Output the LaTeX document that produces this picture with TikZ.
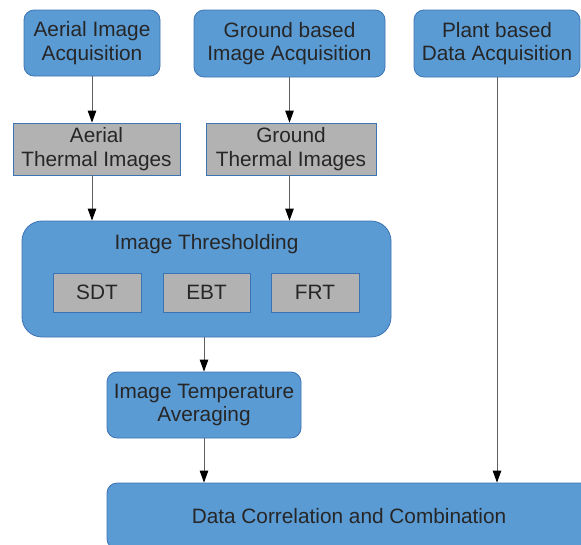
\documentclass[tikz,border=0pt]{standalone}
\usepackage{fontspec}
\setmainfont{Liberation Sans}
\usetikzlibrary{arrows.meta,shapes}
\definecolor{boxblue}{RGB}{91,155,212}
\definecolor{boxedge}{RGB}{60,115,180}
\definecolor{boxgray}{RGB}{178,178,178}
\definecolor{linegray}{RGB}{95,95,95}
\tikzstyle{stage}=[rectangle, rounded corners=10pt, fill=boxblue, draw=boxedge, line width=0.8pt, align=center, inner sep=0pt, text=black!85, font=\fontsize{20.8}{23.5}\selectfont]
\tikzstyle{product}=[rectangle, fill=boxgray, draw=boxedge, line width=0.8pt, align=center, inner sep=0pt, text=black!85, font=\fontsize{20.8}{23.5}\selectfont]
\tikzstyle{caption}=[inner sep=0pt, text=black!85, font=\fontsize{20.8}{23.5}\selectfont]
\tikzstyle{arrow}=[-{Triangle[length=12pt,width=8.5pt,color=black]}, draw=linegray, line width=1pt]

\begin{document}
\begin{tikzpicture}[x=1pt, y=1pt]
            \useasboundingbox (0,0) rectangle (581,-544);
            \clip (0,0) rectangle (581,-544);

            % acquisition
            \node [style=stage, minimum width=136, minimum height=66] (AerialAcq) at (92,-43) {Aerial Image\\Acquisition};
            \node [style=stage, minimum width=191, minimum height=67] (GroundAcq) at (289.5,-43.5) {Ground based\\Image Acquisition};
            \node [style=stage, minimum width=166, minimum height=67] (PlantAcq) at (497,-43.5) {Plant based\\Data Acquisition};

            % thermal images
            \node [style=product, minimum width=167, minimum height=52] (AerialTh) at (96.5,-149) {Aerial\\Thermal Images};
            \node [style=product, minimum width=170, minimum height=52] (GroundTh) at (291,-149) {Ground\\Thermal Images};

            % thresholding
            \node [style=stage, rounded corners=20pt, minimum width=369, minimum height=116] (Thresh) at (206.5,-279) {};
            \node [style=caption] (ThreshTitle) at (206.5,-244) {Image Thresholding};
            \node [style=product, minimum width=88, minimum height=39] (SDT) at (97,-292.5) {SDT};
            \node [style=product, minimum width=87, minimum height=39] (EBT) at (206.5,-292.5) {EBT};
            \node [style=product, minimum width=88, minimum height=39] (FRT) at (315,-292.5) {FRT};

            \node [style=stage, minimum width=194, minimum height=66] (Avg) at (204,-405) {Image Temperature\\Averaging};
            \node [style=stage, minimum width=484, minimum height=66] (Data) at (349,-516) {Data Correlation and Combination};

            \draw [style=arrow] (AerialAcq.south) -- (AerialAcq.south |- AerialTh.north);
            \draw [style=arrow] (GroundAcq.south) -- (GroundAcq.south |- GroundTh.north);
            \draw [style=arrow] (AerialTh.south -| AerialAcq.south) -- (AerialAcq.south |- Thresh.north);
            \draw [style=arrow] (GroundTh.south -| GroundAcq.south) -- (GroundAcq.south |- Thresh.north);
            \draw [style=arrow] (Avg.north |- Thresh.south) -- (Avg.north);
            \draw [style=arrow] (Avg.south) -- (Avg.south |- Data.north);
            \draw [style=arrow] (PlantAcq.south) -- (PlantAcq.south |- Data.north);
\end{tikzpicture}
\end{document}
